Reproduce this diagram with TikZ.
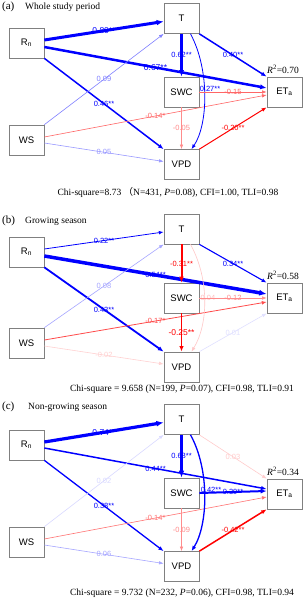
\documentclass[tikz,border=0pt]{standalone}
\usepackage{fontspec}
\setmainfont{Liberation Serif}
\setsansfont{Liberation Sans}
\newfontfamily\cjk{Noto Sans CJK SC}
\usetikzlibrary{arrows.meta,calc}
\definecolor{bl}{RGB}{0,0,255}
\definecolor{rd}{RGB}{255,0,0}
\begin{document}
\begin{tikzpicture}[x=1pt,y=-1pt,
  box/.style={draw=black!50, line width=0.7pt, fill=white, minimum width=35pt, minimum height=30pt, inner sep=0pt, font=\sffamily\fontsize{9.5}{10}\selectfont},
  lab/.style={font=\sffamily\fontsize{7.5}{8}\selectfont, inner sep=0.5pt},
  labL/.style={font=\sffamily\fontsize{8.5}{9}\selectfont, inner sep=0.5pt},
  arr/.style={-{Latex[length=4pt 1.0,width=3pt 0.9]}},
  ttl/.style={anchor=west, inner sep=0pt, font=\fontsize{11}{12}\selectfont},
  sub/.style={anchor=west, inner sep=0pt, font=\fontsize{9.5}{10}\selectfont},
  chi/.style={inner sep=0pt, font=\fontsize{9.5}{10}\selectfont},
  rsq/.style={anchor=base west, inner sep=0pt, font=\fontsize{9.5}{10}\selectfont}
]
\useasboundingbox[fill=white] (0,0) rectangle (303,600);

% ================= (a) =================
\node[ttl] (tA) at (2,7) {(a)};
\node[sub] (sA) at (25,7) {Whole study period};
\node[box] (Ta) at (181.5,18.5) {T};
\node[box] (Rna) at (26.5,43) {R\textsubscript{n}};
\node[box] (SWCa) at (181.5,92) {SWC};
\node[box] (ETaa) at (284.5,92) {ET\textsubscript{a}};
\node[box] (WSa) at (26.5,140) {WS};
\node[box] (VPDa) at (181.5,164.5) {VPD};
\node[rsq] (Ra) at (267,73) {\textit{R}\textsuperscript{2}=0.70};

\draw[arr,bl,line width=3pt] ($(Rna.east)+(0,-3)$) -- node[labL]{0.80**} ($(Ta.west)+(0,3)$);
\draw[arr,bl,line width=2.5pt] ($(Rna.east)+(0,4)$) -- node[labL]{0.67**} ($(ETaa.west)+(0,-4)$);
\draw[arr,bl,line width=1.5pt] (Rna.south east) -- node[lab]{0.46**} (VPDa.north west);
\draw[arr,bl!50,line width=0.6pt] (WSa.north east) -- node[lab]{0.09} (Ta.south west);
\draw[arr,rd!60,line width=0.6pt] ($(WSa.east)+(0,-3)$) -- node[lab]{-0.14*} ($(ETaa.west)+(0,3)$);
\draw[arr,bl!40,line width=0.6pt] ($(WSa.east)+(0,3)$) -- node[lab]{0.05} ($(VPDa.west)+(0,-3)$);
\draw[arr,bl,line width=2.5pt] (Ta.south) -- node[lab]{0.62**} (SWCa.north);
\draw[arr,bl,line width=1.5pt] (Ta.south east) -- node[lab]{0.40**} (ETaa.north west);
\draw[arr,bl,line width=0.8pt] ($(Ta.south)+(9,0)$) .. controls (210,70) and (208,125) .. ($(VPDa.north)+(10,0)$);
\node[lab,bl] (cA) at (210,89) {0.27**};
\draw[arr,rd!60,line width=0.6pt] (SWCa.east) -- node[lab]{-0.15} (ETaa.west);
\draw[arr,rd!45,line width=0.6pt] (SWCa.south) -- node[lab]{-0.05} (VPDa.north);
\draw[arr,rd,line width=1pt] (VPDa.north east) -- node[lab]{-0.20**} (ETaa.south west);
\node[chi] (chiA) at (168,192) {Chi-square=8.73 {\cjk （}N=431, \textit{P}=0.08), CFI=1.00, TLI=0.98};

% ================= (b) =================
\node[ttl] (tB) at (2,221) {(b)};
\node[sub] (sB) at (25,221) {Growing season};
\node[box] (Tb) at (181.5,229) {T};
\node[box] (Rnb) at (26.5,252) {R\textsubscript{n}};
\node[box] (SWCb) at (181.5,298) {SWC};
\node[box] (ETab) at (284.5,298) {ET\textsubscript{a}};
\node[box] (WSb) at (26.5,343) {WS};
\node[box] (VPDb) at (181.5,367) {VPD};
\node[rsq] (Rb) at (267,279) {\textit{R}\textsuperscript{2}=0.58};

\draw[arr,bl,line width=0.8pt] ($(Rnb.east)+(0,-3)$) -- node[lab]{0.22**} ($(Tb.west)+(0,3)$);
\draw[arr,bl,line width=3.5pt] ($(Rnb.east)+(0,4)$) -- node[lab]{0.54**} ($(ETab.west)+(0,-4)$);
\draw[arr,bl,line width=1.8pt] (Rnb.south east) -- node[lab]{0.43**} (VPDb.north west);
\draw[arr,bl!35,line width=0.6pt] (WSb.north east) -- node[lab]{0.08} (Tb.south west);
\draw[arr,rd!70,line width=0.8pt] ($(WSb.east)+(0,-3)$) -- node[lab]{-0.17*} ($(ETab.west)+(0,4)$);
\draw[arr,rd!18,line width=0.6pt] ($(WSb.east)+(0,3)$) -- node[lab]{-0.02} ($(VPDb.west)+(0,-3)$);
\draw[arr,rd,line width=2pt] (Tb.south) -- node[lab]{-0.31**} (SWCb.north);
\draw[arr,bl,line width=1.1pt] (Tb.south east) -- node[lab]{0.34**} (ETab.north west);
\draw[arr,rd!22,line width=0.6pt] ($(Tb.south)+(9,0)$) .. controls (210,280) and (208,325) .. ($(VPDb.north)+(10,0)$);
\node[lab,rd!25] (cB) at (208,298) {0.04};
\draw[arr,rd!45,line width=0.6pt] (SWCb.east) -- node[lab]{-0.12} (ETab.west);
\draw[arr,rd,line width=1.5pt] (SWCb.south) -- node[labL]{-0.25**} (VPDb.north);
\draw[arr,bl!12,line width=0.6pt] (VPDb.north east) -- node[lab]{0.01} (ETab.south west);
\node[chi] (chiB) at (182,389) {Chi-square = 9.658 (N=199, \textit{P}=0.07), CFI=0.98, TLI=0.91};

% ================= (c) =================
\node[ttl] (tC) at (2,407) {(c)};
\node[sub] (sC) at (28,407) {Non-growing season};
\node[box] (Tc) at (181.5,419.5) {T};
\node[box] (Rnc) at (26.5,445) {R\textsubscript{n}};
\node[box] (SWCc) at (181.5,493) {SWC};
\node[box] (ETac) at (284.5,494) {ET\textsubscript{a}};
\node[box] (WSc) at (26.5,542) {WS};
\node[box] (VPDc) at (181.5,566.5) {VPD};
\node[rsq] (Rc) at (267,475) {\textit{R}\textsuperscript{2}=0.34};

\draw[arr,bl,line width=3.2pt] ($(Rnc.east)+(0,-3)$) -- node[labL]{0.74**} ($(Tc.west)+(0,3)$);
\draw[arr,bl,line width=1.5pt] ($(Rnc.east)+(0,3)$) -- node[lab]{0.44**} ($(ETac.west)+(0,-5)$);
\draw[arr,bl,line width=1.3pt] (Rnc.south east) -- node[lab]{0.38**} (VPDc.north west);
\draw[arr,bl!15,line width=0.6pt] (WSc.north east) -- node[lab]{0.02} (Tc.south west);
\draw[arr,rd!55,line width=0.6pt] ($(WSc.east)+(0,-3)$) -- node[lab]{-0.14*} ($(ETac.west)+(0,3)$);
\draw[arr,bl!35,line width=0.6pt] ($(WSc.east)+(0,3)$) -- node[lab]{0.06} ($(VPDc.west)+(0,-3)$);
\draw[arr,bl,line width=3pt] (Tc.south) -- node[lab]{0.68**} (SWCc.north);
\draw[arr,rd!20,line width=0.6pt] (Tc.south east) -- node[lab]{0.03} (ETac.north west);
\draw[arr,bl,line width=1.3pt] ($(Tc.south)+(9,0)$) .. controls (210,470) and (208,525) .. ($(VPDc.north)+(10,0)$);
\node[lab,bl] (cC) at (211,490) {0.42**};
\draw[arr,bl,line width=2pt] (SWCc.east) -- node[lab]{0.39**} ($(ETac.west)+(0,-3)$);
\draw[arr,rd!45,line width=0.6pt] (SWCc.south) -- node[lab]{-0.09} (VPDc.north);
\draw[arr,rd,line width=1.5pt] (VPDc.north east) -- node[lab]{-0.42**} (ETac.south west);
\node[chi] (chiC) at (182,593) {Chi-square = 9.732 (N=232, \textit{P}=0.06), CFI=0.98, TLI=0.94};
\end{tikzpicture}
\end{document}
